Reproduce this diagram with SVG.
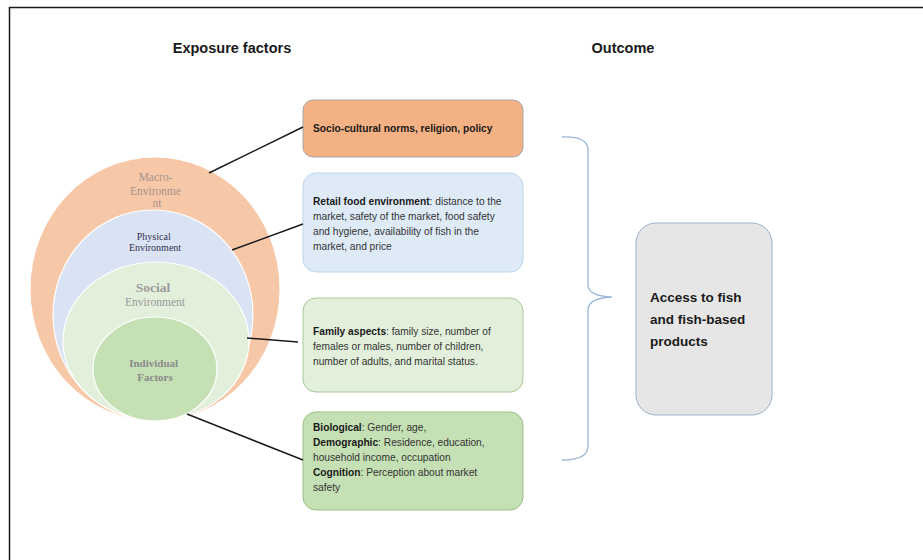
<svg xmlns="http://www.w3.org/2000/svg" width="923" height="560" viewBox="0 0 923 560">
  <style>
    .head { font-family: "Liberation Sans", Arial, sans-serif; font-weight: bold; font-size: 14.5px; fill: #1a1a1a; }
    .ring { font-family: "Liberation Serif", "Times New Roman", serif; text-anchor: middle; }
    .box { font-family: "Liberation Sans", Arial, sans-serif; font-size: 10.2px; fill: #333333; }
    .box .b { font-weight: bold; fill: #1a1a1a; }
    .out { font-family: "Liberation Sans", Arial, sans-serif; font-weight: bold; font-size: 13.5px; fill: #1a1a1a; }
    .link { stroke: #1a1a1a; stroke-width: 1.5; fill: none; }
  </style>

  <!-- frame -->
  <path d="M9.5 560 V7.5 H923" fill="none" stroke="#1a1a1a" stroke-width="1.5"/>

  <!-- column headings -->
  <text class="head" x="232" y="53" text-anchor="middle">Exposure factors</text>
  <text class="head" x="623" y="53" text-anchor="middle">Outcome</text>

  <!-- nested environment rings -->
  <g id="macro">
    <ellipse cx="155" cy="289" rx="125" ry="132" fill="#f7c8a8" stroke="#ffffff" stroke-width="1"/>
    <text class="ring" font-size="11.5" fill="#a8938b">
      <tspan x="157" y="181">Macro-</tspan>
      <tspan x="157" y="195">Environme</tspan>
      <tspan x="157" y="207">nt</tspan>
    </text>
  </g>
  <g id="physical">
    <ellipse cx="153" cy="315" rx="100" ry="105" fill="#dae3f3" stroke="#ffffff" stroke-width="1.2"/>
    <text class="ring" font-size="10" fill="#303050">
      <tspan x="155" y="240">Physical</tspan>
      <tspan x="155" y="251">Environment</tspan>
    </text>
  </g>
  <g id="social">
    <ellipse cx="156" cy="341" rx="93" ry="79" fill="#e2efda" stroke="#ffffff" stroke-width="1.2"/>
    <text class="ring" fill="#9a9a9a">
      <tspan x="155" y="292" font-size="13.5" font-weight="bold">Social</tspan>
      <tspan x="155" y="306" font-size="11.5">Environment</tspan>
    </text>
  </g>
  <g id="individual">
    <ellipse cx="155" cy="369" rx="62" ry="52" fill="#c5e0b4" stroke="#ffffff" stroke-width="1.2"/>
    <text class="ring" font-size="11" font-weight="bold" fill="#8a8a8a">
      <tspan x="155" y="367">Individual</tspan>
      <tspan x="155" y="381">Factors</tspan>
    </text>
  </g>

  <!-- factor boxes -->
  <g id="box-macro">
    <rect x="303" y="100" width="220" height="57" rx="10" fill="#f4b183" stroke="#a6a6a6" stroke-width="1"/>
    <text class="box" x="313" y="132"><tspan class="b">Socio-cultural norms, religion, policy</tspan></text>
  </g>
  <g id="box-physical">
    <rect x="303" y="173" width="220" height="99" rx="13" fill="#deebf7" stroke="#bdd7ee" stroke-width="1"/>
    <text class="box">
      <tspan x="313" y="205"><tspan class="b">Retail food environment</tspan>: distance to the</tspan>
      <tspan x="313" y="220">market,  safety of the market,  food safety</tspan>
      <tspan x="313" y="235">and hygiene, availability of fish in the</tspan>
      <tspan x="313" y="250">market,  and price</tspan>
    </text>
  </g>
  <g id="box-social">
    <rect x="303" y="298" width="220" height="94" rx="13" fill="#e2efda" stroke="#a9c89a" stroke-width="1"/>
    <text class="box">
      <tspan x="313" y="335"><tspan class="b">Family aspects</tspan>:  family size, number  of</tspan>
      <tspan x="313" y="350">females or males, number  of children,</tspan>
      <tspan x="313" y="365">number  of adults, and marital status.</tspan>
    </text>
  </g>
  <g id="box-individual">
    <rect x="303" y="412" width="220" height="98" rx="13" fill="#c5e0b4" stroke="#9dbf8a" stroke-width="1"/>
    <text class="box">
      <tspan x="313" y="431"><tspan class="b">Biological</tspan>: Gender, age,</tspan>
      <tspan x="313" y="446"><tspan class="b">Demographic</tspan>: Residence, education,</tspan>
      <tspan x="313" y="461">household income,  occupation</tspan>
      <tspan x="313" y="476"><tspan class="b">Cognition</tspan>: Perception about market</tspan>
      <tspan x="313" y="491">safety</tspan>
    </text>
  </g>

  <!-- outcome -->
  <g id="outcome">
    <rect x="636" y="223" width="136" height="192" rx="20" fill="#e7e6e6" stroke="#9fb3c8" stroke-width="1"/>
    <text class="out">
      <tspan x="650" y="302">Access to fish</tspan>
      <tspan x="650" y="324">and fish-based</tspan>
      <tspan x="650" y="346">products</tspan>
    </text>
  </g>

  <!-- connectors -->
  <g id="connectors">
    <line class="link" x1="209" y1="173" x2="303" y2="127"/>
    <line class="link" x1="232" y1="250" x2="303" y2="224"/>
    <line class="link" x1="247" y1="338" x2="298" y2="342"/>
    <line class="link" x1="187" y1="414" x2="303" y2="460"/>
    <!-- brace gathering the factor boxes -->
    <path d="M562 137 Q588 136 588 150 V285 Q588 296 612 297 Q588 298 588 310 V446 Q588 460 562 460" fill="none" stroke="#9ab7d6" stroke-width="1.3"/>
  </g>
</svg>
